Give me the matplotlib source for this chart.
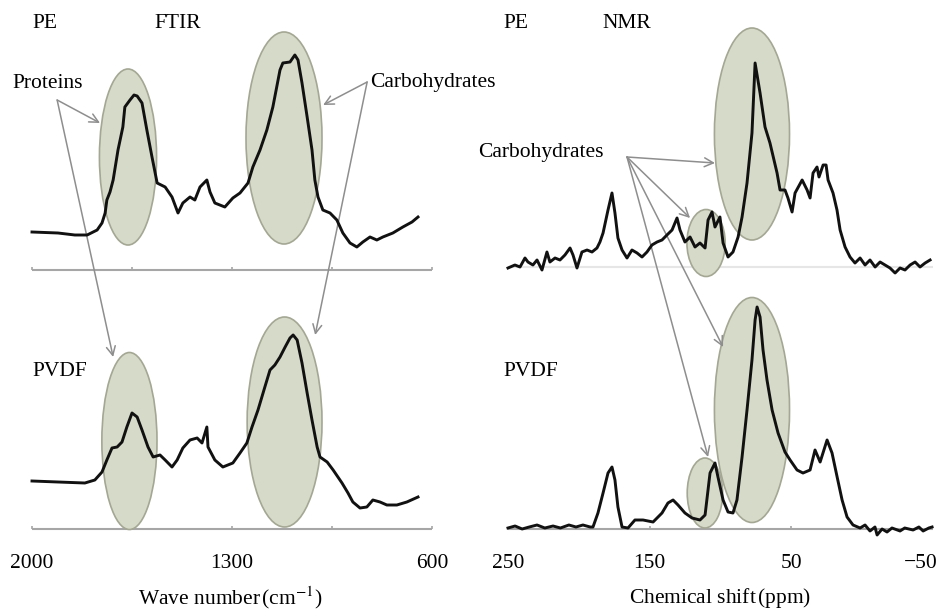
import matplotlib.pyplot as plt
from matplotlib.patches import Ellipse

plt.rcParams['font.family'] = ['Liberation Serif', 'DejaVu Serif']
plt.rcParams['mathtext.fontset'] = 'stix'

# FTIR spectra (wave number in cm-1, absorbance in a.u.)
ftir_pe_wn = [2000, 1909, 1850, 1807, 1772, 1755, 1744, 1738, 1727, 1716, 1699, 1682,
              1675, 1657, 1643, 1632, 1615, 1598, 1580, 1562, 1534, 1510, 1489, 1472,
              1447, 1430, 1412, 1388, 1377, 1360, 1325, 1297, 1272, 1244, 1227, 1202,
              1178, 1157, 1132, 1122, 1097, 1080, 1069, 1055, 1037, 1020, 1010, 999,
              982, 957, 933, 912, 887, 863, 842, 817, 793, 772, 737, 702, 670, 649]
ftir_pe_abs = [38, 37, 35, 35, 40, 47, 57, 70, 78, 90, 120, 143,
               163, 170, 175, 174, 167, 140, 113, 87, 83, 73, 57, 67,
               73, 70, 83, 90, 78, 67, 63, 72, 77, 87, 103, 120,
               140, 163, 200, 207, 208, 215, 210, 187, 153, 120, 90, 73,
               60, 57, 50, 37, 27, 23, 28, 33, 30, 33, 37, 43, 48, 53]

ftir_pvdf_wn = [2000, 1909, 1815, 1780, 1755, 1738, 1720, 1702, 1685, 1668, 1650, 1632,
                1615, 1594, 1576, 1552, 1534, 1510, 1492, 1472, 1447, 1422, 1405, 1388,
                1384, 1360, 1332, 1297, 1272, 1248, 1230, 1209, 1185, 1167, 1150, 1132,
                1114, 1097, 1086, 1072, 1055, 1037, 1020, 1002, 992, 967, 946, 915,
                894, 877, 852, 828, 807, 782, 758, 723, 688, 649]
ftir_pvdf_abs = [48, 47, 46, 49, 57, 69, 81, 82, 87, 102, 116, 112,
                 99, 82, 72, 74, 69, 62, 69, 81, 89, 91, 86, 102,
                 82, 69, 62, 66, 76, 86, 102, 119, 142, 159, 164, 172,
                 182, 191, 194, 189, 166, 136, 109, 82, 72, 67, 59, 46,
                 36, 27, 21, 22, 29, 27, 24, 24, 27, 32]

# NMR spectra (chemical shift in ppm, intensity in a.u.)
nmr_pe_ppm = [250.0, 245.1, 241.5, 238.0, 235.9, 232.4, 229.5, 226.0, 222.5, 220.4, 216.8,
              213.3, 209.8, 206.2, 204.1, 201.3, 197.8, 194.2, 190.7, 187.2, 185.1, 182.9,
              179.4, 176.6, 174.5, 172.4, 169.5, 166.0, 162.5, 158.9, 155.4, 151.9, 148.4,
              144.8, 141.3, 137.8, 134.2, 130.7, 128.6, 125.1, 121.5, 118.0, 114.5, 110.9,
              108.8, 106.0, 103.9, 100.4, 98.2, 94.7, 91.2, 87.6, 84.8, 81.3, 77.8, 75.6,
              72.1, 68.6, 65.1, 60.1, 58.0, 54.5, 52.4, 49.5, 47.4, 42.4, 38.9, 36.8, 34.7,
              31.9, 30.5, 27.6, 25.5, 24.1, 20.6, 17.8, 15.6, 12.1, 8.6, 5.1, 1.5, -2.0,
              -5.5, -9.1, -12.6, -16.1, -19.6, -23.2, -26.7, -30.2, -33.8, -37.3, -40.8,
              -44.4, -47.9]
nmr_pe_int = [-1, 2, 0, 9, 5, 2, 7, -3, 15, 5, 9,
              7, 12, 19, 12, -1, 15, 17, 15, 19, 25, 34,
              57, 74, 54, 29, 17, 9, 17, 14, 10, 15, 22,
              25, 27, 32, 37, 49, 37, 25, 30, 20, 24, 19,
              47, 55, 40, 50, 24, 10, 15, 30, 50, 84, 134, 204,
              174, 140, 124, 94, 77, 77, 69, 55, 74, 87, 77, 69, 94,
              100, 90, 102, 102, 87, 74, 57, 37, 20, 10, 4, 9, 2,
              7, 0, 5, 2, -1, -6, -1, -3, 2, 5, 0,
              4, 7]

nmr_pvdf_ppm = [250.0, 245.0, 240.0, 235.0, 229.5, 224.0, 218.2, 213.0, 207.0, 202.0, 197.1,
                192.0, 190.0, 186.5, 182.9, 179.4, 176.6, 174.5, 172.4, 169.5, 165.3, 160.4,
                154.7, 147.6, 141.3, 137.1, 133.5, 130.0, 125.1, 120.1, 114.5, 110.9, 107.4,
                103.9, 101.8, 98.2, 94.7, 91.2, 88.4, 84.8, 81.3, 77.8, 75.6, 74.2, 72.1,
                70.0, 67.2, 63.6, 59.4, 54.5, 50.9, 46.0, 41.8, 36.8, 33.3, 29.7, 24.8,
                21.3, 17.7, 14.2, 10.7, 6.5, 1.5, -2.0, -5.5, -9.0, -10.5, -14.0, -17.5,
                -21.0, -26.7, -30.0, -35.9, -40.0, -43.0, -47.0, -49.3]
nmr_pvdf_int = [1, 3, 0, 2, 4, 1, 3, 1, 4, 2, 4,
                2, 2, 16, 36, 56, 62, 49, 22, 2, 1, 9,
                9, 7, 16, 26, 29, 24, 16, 11, 9, 14, 56,
                66, 52, 29, 17, 16, 29, 72, 119, 169, 209, 222, 212,
                179, 149, 119, 96, 77, 69, 59, 56, 59, 79, 67, 89,
                76, 52, 29, 12, 4, 1, 4, -2, 2, -6, 0, -3,
                1, -2, 1, -1, 2, -2, 1, 2]

ftir_ticks = [2000, 1650, 1300, 950, 600]
ftir_labels = ['2000', '1300', '600']
nmr_ticks = [250, 150, 50, -50]
nmr_labels = ['250', '150', '50', '−50']

# vertical offset of the upper (PE) trace
ftir_offset = 259
nmr_offset = 262

# highlighted regions: (center x, center y, width, height)
ftir_regions = [(1664, 372, 200, 176), (1118, 391, 266, 212),
                (1659, 88, 193, 177), (1116, 107, 262, 210)]
nmr_regions = [(77.8, 395, 53, 212), (110.2, 286, 27, 67),
               (77.8, 119, 53, 225), (111.0, 36, 25, 70)]

fill_c = '#d6dac8'
edge_c = '#a3a793'
arrow_c = '#8e8e8e'
base_c = '#a6a6a6'
line_c = '#111111'
fs = 15.5

fig = plt.figure(figsize=(9.41, 6.11), dpi=100)
ax1 = fig.add_axes([0, 0, 470 / 941, 1])
ax2 = fig.add_axes([470 / 941, 0, 471 / 941, 1])
for ax in (ax1, ax2):
    ax.set_axis_off()
    ax.set_ylim(-82, 529)
ax1.set_xlim(2112, 467)
ax2.set_xlim(276.8, -55.6)

# left: FTIR
for cx, cy, w, h in ftir_regions:
    ax1.add_patch(Ellipse((cx, cy), w, h, facecolor=fill_c, edgecolor=edge_c, lw=1.2, zorder=1))
for off in (ftir_offset, 0):
    ax1.hlines(off, 2000, 600, color=base_c, lw=1.5, zorder=0)
    ax1.vlines(ftir_ticks, off, off + 3, color=base_c, lw=1.2, zorder=0)
ax1.plot(ftir_pe_wn, [v + ftir_offset for v in ftir_pe_abs], color=line_c, lw=2.1, zorder=5)
ax1.plot(ftir_pvdf_wn, ftir_pvdf_abs, color=line_c, lw=2.1, zorder=5)

arrow = dict(arrowstyle='->', color=arrow_c, lw=1.1, shrinkA=0, shrinkB=0, mutation_scale=16)
for end in [(1762, 406), (1716, 172)]:
    ax1.annotate('', xy=end, xytext=(1912, 429), arrowprops=arrow, zorder=3)
for end in [(981, 424), (1009, 194)]:
    ax1.annotate('', xy=end, xytext=(827, 447), arrowprops=arrow, zorder=3)

ax1.text(2000, 506, 'PE', fontsize=fs, va='center', ha='left')
ax1.text(1570, 506, 'FTIR', fontsize=fs, va='center', ha='left')
ax1.text(2070, 446, 'Proteins', fontsize=fs, va='center', ha='left')
ax1.text(817, 446, 'Carbohydrates', fontsize=fs, va='center', ha='left')
ax1.text(2000, 157, 'PVDF', fontsize=fs, va='center', ha='left')
for t in ftir_labels:
    ax1.text(int(t), -34, t, fontsize=fs, va='center', ha='center')
ax1.text(1307, -69, 'Wave number$\\,$(cm$^{-1}$)', fontsize=fs, va='center', ha='center')

# right: NMR
for cx, cy, w, h in nmr_regions:
    ax2.add_patch(Ellipse((cx, cy), w, h, facecolor=fill_c, edgecolor=edge_c, lw=1.2, zorder=1))
ax2.hlines(nmr_offset, 250, -50, color='#e6e6e6', lw=1.5, zorder=0)
ax2.hlines(0, 250, -50, color=base_c, lw=1.5, zorder=0)
ax2.vlines(nmr_ticks[1:3], 0, 3, color=base_c, lw=1.2, zorder=0)
ax2.plot(nmr_pe_ppm, [v + nmr_offset for v in nmr_pe_int], color=line_c, lw=2.1, zorder=5)
ax2.plot(nmr_pvdf_ppm, nmr_pvdf_int, color=line_c, lw=2.1, zorder=5)

for end in [(103.9, 366), (121.5, 311), (98.2, 182), (108.8, 72)]:
    ax2.annotate('', xy=end, xytext=(166.0, 372), arrowprops=arrow, zorder=3)

ax2.text(253.5, 506, 'PE', fontsize=fs, va='center', ha='left')
ax2.text(183, 506, 'NMR', fontsize=fs, va='center', ha='left')
ax2.text(271.2, 376, 'Carbohydrates', fontsize=fs, va='center', ha='left')
ax2.text(253.5, 157, 'PVDF', fontsize=fs, va='center', ha='left')
for v, t in zip(nmr_ticks[:3], nmr_labels[:3]):
    ax2.text(v, -34, t, fontsize=fs, va='center', ha='center')
ax2.text(-53, -34, nmr_labels[3], fontsize=fs, va='center', ha='right')
ax2.text(100.3, -69, 'Chemical shift$\\,$(ppm)', fontsize=fs, va='center', ha='center')

fig.savefig('out.png', dpi=100)
